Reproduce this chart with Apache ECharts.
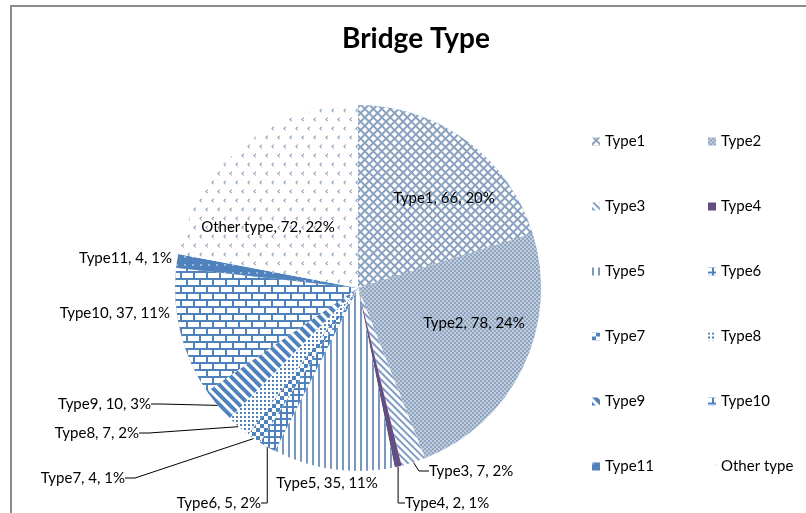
<!DOCTYPE html>
<html>
<head>
<meta charset="utf-8">
<script src="https://cdn.jsdelivr.net/npm/echarts@6/dist/echarts.min.js"></script>
<style>
html, body { margin: 0; padding: 0; background: #fff; overflow: hidden; }
.frame {
  position: absolute; left: 10px; top: 5px;
  width: 806px; height: 520px;
  border-left: 2px solid #8c8c8c; border-top: 2px solid #8c8c8c;
}
#bridge-chart { position: absolute; left: 0; top: 0; width: 806px; height: 513px; }
</style>
</head>
<body>
<div class="frame"></div>
<div id="bridge-chart"></div>
<script>
// 数据
var typeNames = ['Type1', 'Type2', 'Type3', 'Type4', 'Type5', 'Type6',
  'Type7', 'Type8', 'Type9', 'Type10', 'Type11', 'Other type'];
var typeCounts = [66, 78, 7, 2, 35, 5, 4, 7, 10, 37, 4, 72];
var legendLeft = ['Type1', 'Type3', 'Type5', 'Type7', 'Type9', 'Type11'];
var legendRight = ['Type2', 'Type4', 'Type6', 'Type8', 'Type10', 'Other type'];

// label anchor spots (x, y, align) - layout only
var labelSpots = {
  'Type1': [444, 198, 'center'],
  'Type2': [474, 323, 'center'],
  'Type3': [429, 471, 'left'],
  'Type4': [405, 503, 'left'],
  'Type5': [327, 483, 'center'],
  'Type6': [261, 503, 'right'],
  'Type7': [125, 478, 'right'],
  'Type8': [139, 433, 'right'],
  'Type9': [151, 404, 'right'],
  'Type10': [170, 313, 'right'],
  'Type11': [172, 258, 'right'],
  'Other type': [268, 227, 'center']
};
var noLine = ['Type1', 'Type2', 'Type5', 'Type10', 'Type11', 'Other type'];

var chevron = 'path://M6,0 L0,5 L6,10 L6,7.5 L3,5 L6,2.5 Z';
// fill patterns
var patterns = {
  'Type1': { color: '#8aa2bf', decal: { symbol: 'rect', color: '#ffffff', dashArrayX: [4, 2], dashArrayY: [4, 2], rotation: Math.PI / 4 } },
  'Type2': { color: '#8fa5bf', decal: { symbol: 'rect', color: 'rgba(255,255,255,0.45)', dashArrayX: [[2, 2], [0, 2, 2, 0]], dashArrayY: [2, 0] } },
  'Type3': { color: '#ffffff', decal: { symbol: 'rect', color: '#7e9cc6', dashArrayX: [2, 3], dashArrayY: [1, 0], rotation: -Math.PI / 4 } },
  'Type4': { color: '#654e80' },
  'Type5': { color: '#ffffff', decal: { symbol: 'rect', color: '#7a97bf', dashArrayX: [2, 4], dashArrayY: [1, 0] } },
  'Type6': { color: '#4f81bd', decal: { symbol: 'rect', color: '#ffffff', dashArrayX: [4, 2], dashArrayY: [4, 2] } },
  'Type7': { color: '#ffffff', decal: { symbol: 'rect', color: '#4f81bd', dashArrayX: [[4, 4], [0, 4, 4, 0]], dashArrayY: [4, 0] } },
  'Type8': { color: '#ffffff', decal: { symbol: 'rect', color: '#4f81bd', dashArrayX: [2, 2], dashArrayY: [2, 2] } },
  'Type9': { color: '#ffffff', decal: { symbol: 'rect', color: '#4f81bd', dashArrayX: [4, 3], dashArrayY: [1, 0], rotation: -Math.PI / 4 } },
  'Type10': { color: '#4f81bd', decal: { symbol: 'rect', color: '#ffffff', dashArrayX: [[11, 2], [4, 2, 7, 0]], dashArrayY: [5, 2] } },
  'Type11': { color: '#4f81bd', decal: { symbol: 'circle', color: '#ffffff', symbolSize: 0.8, dashArrayX: [2, 6], dashArrayY: [2, 6] } },
  'Other type': { color: '#ffffff', decal: { symbol: chevron, color: '#7d94b2', symbolSize: 0.9, dashArrayX: [[5, 7], [0, 6, 5, 1]], dashArrayY: [5, 4] } }
};

var total = 0;
for (var i = 0; i < typeCounts.length; i++) total += typeCounts[i];

var pieData = [];
for (var i = 0; i < typeNames.length; i++) {
  var name = typeNames[i];
  var itemStyle = { color: patterns[name].color };
  if (patterns[name].decal) itemStyle.decal = patterns[name].decal;
  pieData.push({
    name: name,
    value: typeCounts[i],
    itemStyle: itemStyle,
    labelLine: { show: noLine.indexOf(name) < 0 }
  });
}

var legendBase = {
  orient: 'vertical',
  top: 129,
  itemWidth: 8,
  itemHeight: 8,
  itemGap: 50,
  icon: 'rect',
  textStyle: { fontFamily: 'Lato', fontSize: 15, color: '#000' }
};

var chart = echarts.init(document.getElementById('bridge-chart'));
chart.setOption({
  backgroundColor: 'transparent',
  animation: false,
  title: {
    text: 'Bridge Type',
    left: 337,
    top: 20,
    textStyle: { fontFamily: 'Lato', fontWeight: 'bold', fontSize: 28, color: '#000' }
  },
  legend: [
    Object.assign({ left: 587, data: legendLeft }, legendBase),
    Object.assign({ left: 703, data: legendRight }, legendBase)
  ],
  series: [{
    type: 'pie',
    center: [358, 288],
    radius: 183,
    startAngle: 90,
    clockwise: true,
    avoidLabelOverlap: false,
    itemStyle: { borderWidth: 0 },
    label: {
      show: true,
      position: 'outside',
      fontFamily: 'Lato',
      fontSize: 15,
      color: '#000',
      formatter: function (p) {
        return p.name + ', ' + p.value + ', ' + Math.round(p.value / total * 100) + '%';
      }
    },
    labelLine: { length: 10, length2: 10, lineStyle: { color: '#000', width: 1 } },
    labelLayout: function (params) {
      var s = labelSpots[typeNames[params.dataIndex]];
      return { x: s[0], y: s[1], align: s[2], verticalAlign: 'middle' };
    },
    emphasis: { disabled: true },
    data: pieData
  }]
});
</script>
</body>
</html>
